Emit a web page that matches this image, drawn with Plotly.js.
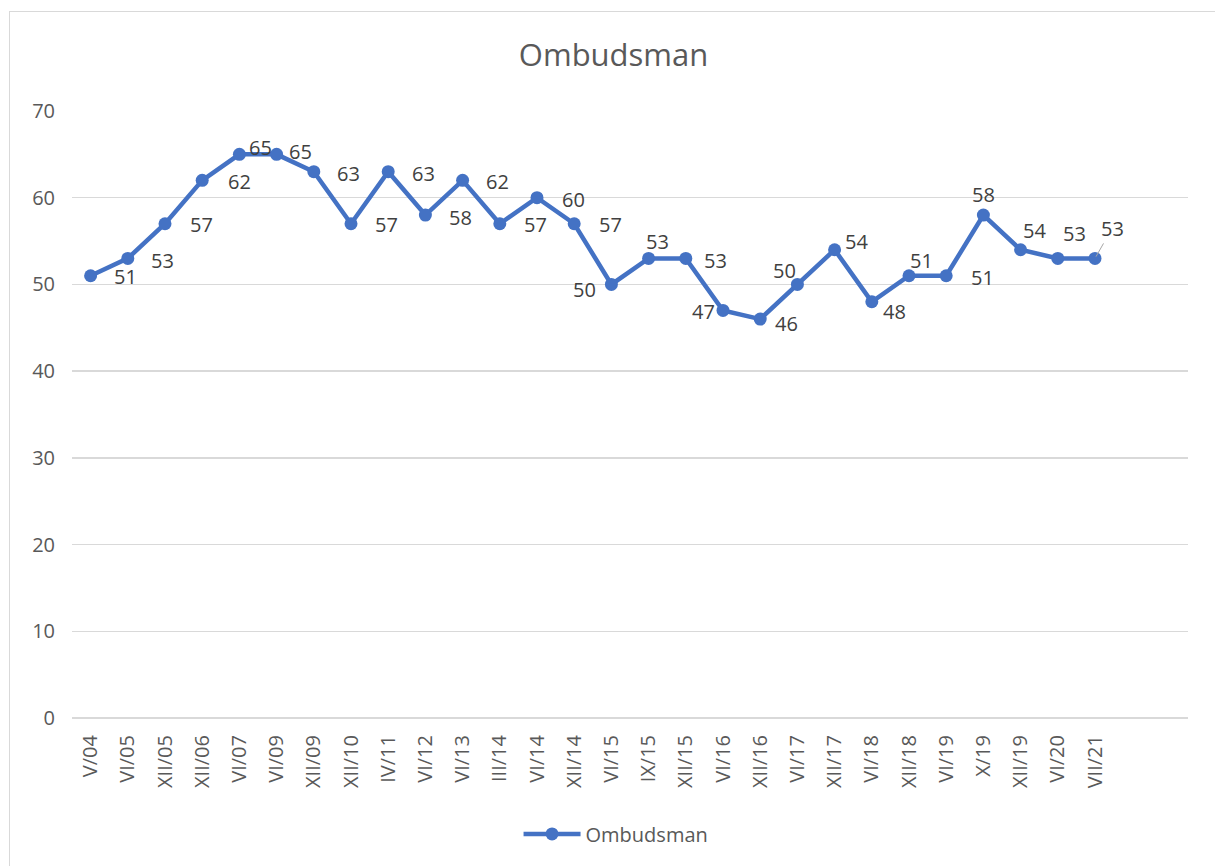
<!DOCTYPE html>
<html>
<head>
<meta charset="utf-8">
<script src="https://cdn.plot.ly/plotly-3.0.1.min.js"></script>
<style>
  html, body { margin: 0; padding: 0; background: #ffffff; overflow: hidden; }
  #chart { position: absolute; left: 0; top: 0; width: 1215px; height: 866px; }
  #frame { position: absolute; left: 9px; top: 11px; width: 1300px; height: 1000px;
           border: 1.5px solid #d9d9d9; pointer-events: none; }
</style>
</head>
<body>
<div id="chart"></div>
<div id="frame"></div>
<script>
// ---- data ----
const categories = ["V/04","VI/05","XII/05","XII/06","VI/07","VI/09","XII/09","XII/10","IV/11","VI/12",
                    "VI/13","III/14","VI/14","XII/14","VI/15","IX/15","XII/15","VI/16","XII/16","VI/17",
                    "XII/17","VI/18","XII/18","VI/19","X/19","XII/19","VI/20","VII/21"];
const values = [51,53,57,62,65,65,63,57,63,58,
                62,57,60,57,50,53,53,47,46,50,
                54,48,51,51,58,54,53,53];
const seriesName = "Ombudsman";
const yTicks = [0,10,20,30,40,50,60,70];

// ---- label placement (pixel offsets of each data label from its point: dx right, dy down) ----
const labelDx = [35,35,36,37,21,24,35,35,35,35, 35,36,36,36,-27,9,30,-20,26,-13, 22,23,12,36,0,14,17,17];
const labelDy = [1,2,1,1,-7,-3,2,1,2,2, 1,1,2,1,5,-17,2,1,4,-14, -8,10,-15,2,-21,-19,-25,-30];

const annotations = categories.map((c, i) => {
  const last = i === categories.length - 1;
  const a = {
    x: c, y: values[i], xref: 'x', yref: 'y',
    text: String(values[i]),
    font: {family: 'Open Sans, sans-serif', size: 20, color: '#404040'}
  };
  if (last) {
    Object.assign(a, {showarrow: true, arrowhead: 0, arrowwidth: 1, arrowcolor: '#a6a6a6',
                      ax: labelDx[i], ay: labelDy[i], standoff: 2});
  } else {
    Object.assign(a, {showarrow: false, xshift: labelDx[i], yshift: -labelDy[i]});
  }
  return a;
});

const trace = {
  type: 'scatter', mode: 'lines+markers', name: seriesName,
  x: categories, y: values,
  line: {color: '#4472C4', width: 4.5},
  marker: {color: '#4472C4', size: 13},
  hoverinfo: 'x+y'
};

const layout = {
  width: 1215, height: 866,
  margin: {l: 72, r: 27, t: 111, b: 148},
  paper_bgcolor: '#ffffff', plot_bgcolor: '#ffffff',
  font: {family: 'Open Sans, sans-serif', color: '#595959'},
  title: {text: 'Ombudsman', x: 0.505, xref: 'container', xanchor: 'center',
          y: 1 - 55/866, yref: 'container', yanchor: 'middle',
          font: {family: 'Open Sans, sans-serif', size: 31, color: '#595959'}},
  xaxis: {
    type: 'category', range: [-0.5, 29.5],
    tickangle: -90, tickfont: {size: 20, color: '#595959'},
    showgrid: false, showline: false, zeroline: false, ticks: '',
    ticklabelstandoff: 12, fixedrange: true
  },
  yaxis: {
    range: [0, 70], tickvals: yTicks, ticktext: yTicks.map(String),
    tickfont: {size: 20, color: '#595959'},
    showgrid: true, gridcolor: '#d9d9d9', gridwidth: 1.5,
    zeroline: true, zerolinecolor: '#d9d9d9', zerolinewidth: 1.5,
    showline: false, ticks: '', ticklabelstandoff: 16, fixedrange: true
  },
  showlegend: true,
  legend: {orientation: 'h', x: 0.4875, xanchor: 'center', y: -0.191, yanchor: 'middle',
           font: {size: 20, color: '#595959'}, itemwidth: 57, bgcolor: 'rgba(0,0,0,0)'},
  annotations: annotations
};

Plotly.newPlot('chart', [trace], layout, {displayModeBar: false, staticPlot: true});
</script>
</body>
</html>
